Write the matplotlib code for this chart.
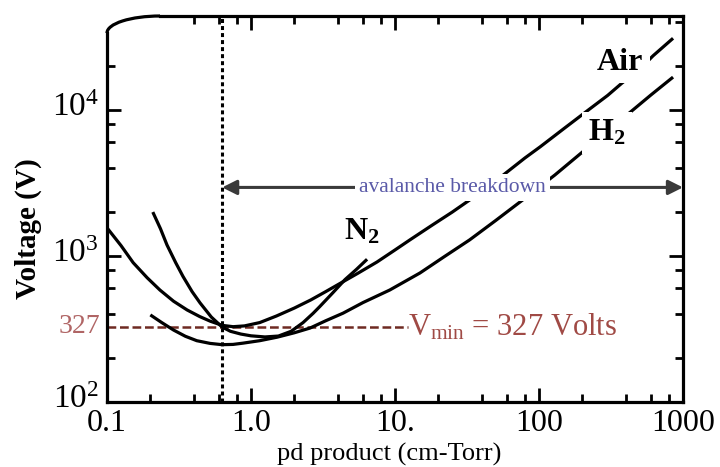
import matplotlib
matplotlib.use("Agg")
import matplotlib.pyplot as plt
import matplotlib.transforms as mtransforms
from matplotlib.patches import Arc, FancyArrowPatch
from matplotlib.ticker import FixedLocator, NullFormatter

# ---- data ----
air_pd = [0.1, 0.125, 0.152, 0.19, 0.233, 0.29, 0.36, 0.44, 0.52, 0.63, 0.75, 0.9, 1.15, 1.5, 2.0,
          2.6, 3.3, 4.2, 5.5, 7.5, 10, 12.7, 18, 25, 33, 45, 60, 80, 102, 150, 220, 300, 377, 500, 619, 853]
air_v = [1560, 1180, 900, 710, 585, 490, 427, 385, 358, 335, 328, 332, 350, 388, 440,
         500, 570, 653, 760, 910, 1100, 1290, 1620, 2000, 2420, 3000, 3760, 4700, 5600, 7500, 10000, 12600, 15300, 19000, 23500, 31000]

h2_pd = [0.2, 0.24, 0.29, 0.35, 0.42, 0.52, 0.63, 0.75, 0.88, 1.15, 1.52, 2.0, 2.57, 3.3, 4.36, 6.0,
         9.2, 14.9, 22, 33, 50, 77, 129, 208, 300, 408, 600, 853]
h2_v = [395, 350, 311, 282, 263, 252, 247, 248, 253, 263, 278, 298, 321, 360, 406, 480,
        585, 765, 990, 1290, 1750, 2420, 3590, 5320, 7200, 9250, 12700, 16800]

n2_pd = [0.208, 0.235, 0.261, 0.3, 0.337, 0.39, 0.443, 0.53, 0.63, 0.72, 0.85, 1.0, 1.25, 1.55, 1.9,
         2.3, 2.7, 3.0, 3.7, 4.5, 5.4, 6.4]
n2_v = [2000, 1540, 1190, 900, 725, 570, 477, 382, 326, 305, 292, 284, 279, 283, 305,
        350, 405, 450, 560, 690, 810, 950]

vmin = 327
pd_vmin = 0.63
arrow_v = 2950
x_ticks = [0.1, 1.0, 10, 100, 1000]
x_ticklabels = ["0.1", "1.0", "10.", "100", "1000"]
y_ticks = [100, 1000, 10000]
y_ticklabels = [r"$\mathregular{10^{2}}$", r"$\mathregular{10^{3}}$", r"$\mathregular{10^{4}}$"]

plt.rcParams["font.family"] = ["Liberation Serif", "DejaVu Serif"]
plt.rcParams["mathtext.fontset"] = "custom"
plt.rcParams["mathtext.rm"] = "Liberation Serif"
plt.rcParams["mathtext.bf"] = "Liberation Serif:bold"
plt.rcParams["mathtext.it"] = "Liberation Serif:italic"

fig = plt.figure(figsize=(7.2, 4.67), dpi=100)
ax = fig.add_axes([107 / 720, 65 / 467, 576 / 720, 386 / 467])
ax.set_xscale("log")
ax.set_yscale("log")
ax.set_xlim(0.1, 1000)
ax.set_ylim(100, 10 ** 4.644)

lw_curve = 2.3
for xs, ys in ((air_pd, air_v), (h2_pd, h2_v), (n2_pd, n2_v)):
    ax.plot(xs, ys, color="black", lw=lw_curve, zorder=3, solid_capstyle="butt", solid_joinstyle="round")

# vertical dotted line at Vmin pd
ax.axvline(pd_vmin, color="black", lw=2.2, ls=(0, (1.3, 1.0)), zorder=2)

# horizontal dashed Vmin line
ax.axhline(vmin, xmin=0, xmax=0.523, color="#6e2a22", lw=1.8, ls=(0, (3.5, 1.5)), zorder=2)
ax.text(1.003 * 10 ** 1.09, vmin, r"$\mathregular{V_{min}}$ = 327 Volts", color="#a04a45",
        fontsize=22, va="center", ha="left", zorder=5)
ax.text(-0.012, vmin, "327", color="#b06565", fontsize=20, va="center", ha="right",
        transform=ax.get_yaxis_transform())

# avalanche breakdown arrow
arr = FancyArrowPatch((pd_vmin, arrow_v), (1000, arrow_v), arrowstyle="<|-|>",
                      mutation_scale=22, color="#3a3a3a", lw=2.2, shrinkA=0, shrinkB=0, zorder=4)
ax.add_patch(arr)
ax.text(25, arrow_v, "avalanche breakdown", color="#5a5aa8", fontsize=15.5, ha="center", va="center",
        zorder=6, bbox=dict(facecolor="white", edgecolor="none", pad=3))

# gas labels
lbl = dict(fontsize=23, fontweight="bold", ha="center", va="center", zorder=6,
           bbox=dict(facecolor="white", edgecolor="none", pad=4.5))
ax.text(365, 21300, "Air", **lbl)
ax.text(296, 6950, r"H$_\mathbf{2}$", **lbl)
ax.text(5.9, 1460, r"N$_\mathbf{2}$", **lbl)

# axes styling
for s in ax.spines.values():
    s.set_linewidth(2.3)
ax.spines["left"].set_bounds(100, 33600)
ax.spines["top"].set_bounds(0.233, 1000)
arc = Arc((53 / 576, 369 / 386), 2 * 53 / 576, 2 * 17 / 386, theta1=90, theta2=180,
          transform=ax.transAxes, lw=2.3, color="black", clip_on=False, zorder=5)
ax.add_patch(arc)

ax.set_xticks(x_ticks)
ax.set_xticklabels(x_ticklabels)
ax.set_yticks(y_ticks)
ax.set_yticklabels(y_ticklabels)
ax.xaxis.set_minor_locator(FixedLocator([m * 10.0 ** e for e in range(-1, 3) for m in (2, 4, 6, 8)]))
ax.yaxis.set_minor_locator(FixedLocator([m * 10.0 ** e for e in range(2, 4) for m in (2, 4, 6, 8)] + [20000]))
ax.xaxis.set_minor_formatter(NullFormatter())
ax.yaxis.set_minor_formatter(NullFormatter())
ax.tick_params(which="both", direction="in", width=2.0, top=False, right=False)
ax.tick_params(which="major", length=10)
ax.tick_params(which="minor", length=6)
ax.tick_params(axis="x", pad=5, labelsize=23)
ax.tick_params(axis="y", pad=6, labelsize=24)
shift_up = mtransforms.ScaledTranslation(0, 4 / 72, fig.dpi_scale_trans)
for t in ax.get_yticklabels():
    t.set_transform(t.get_transform() + shift_up)

# mirrored ticks on top and right
axt = ax.secondary_xaxis("top")
axt.set_xticks(x_ticks[1:])
axt.xaxis.set_minor_locator(FixedLocator([m * 10.0 ** e for e in range(-1, 3) for m in (2, 4, 6, 8) if m * 10.0 ** e > 0.3]))
axt.tick_params(which="both", direction="in", width=2.0, labeltop=False)
axt.tick_params(which="major", length=10)
axt.tick_params(which="minor", length=6)
axt.spines["top"].set_visible(False)
axr = ax.secondary_yaxis("right")
axr.set_yticks(y_ticks[1:])
axr.yaxis.set_minor_locator(FixedLocator([m * 10.0 ** e for e in range(2, 5) for m in (2, 4, 6, 8) if m * 10.0 ** e < 44000]))
axr.tick_params(which="both", direction="in", width=2.0, labelright=False)
axr.tick_params(which="major", length=10)
axr.tick_params(which="minor", length=6)
axr.spines["right"].set_visible(False)

ax.set_xlabel("pd product (cm-Torr)", fontsize=19)
ax.xaxis.label.set_va("bottom")
ax.xaxis.set_label_coords(0.49, -63.5 / 386)
ax.set_ylabel("Voltage (V)", fontsize=21, fontweight="bold")
ax.yaxis.set_label_coords(-0.112, 0.45)

fig.savefig("out.png", dpi=100, facecolor="white")
